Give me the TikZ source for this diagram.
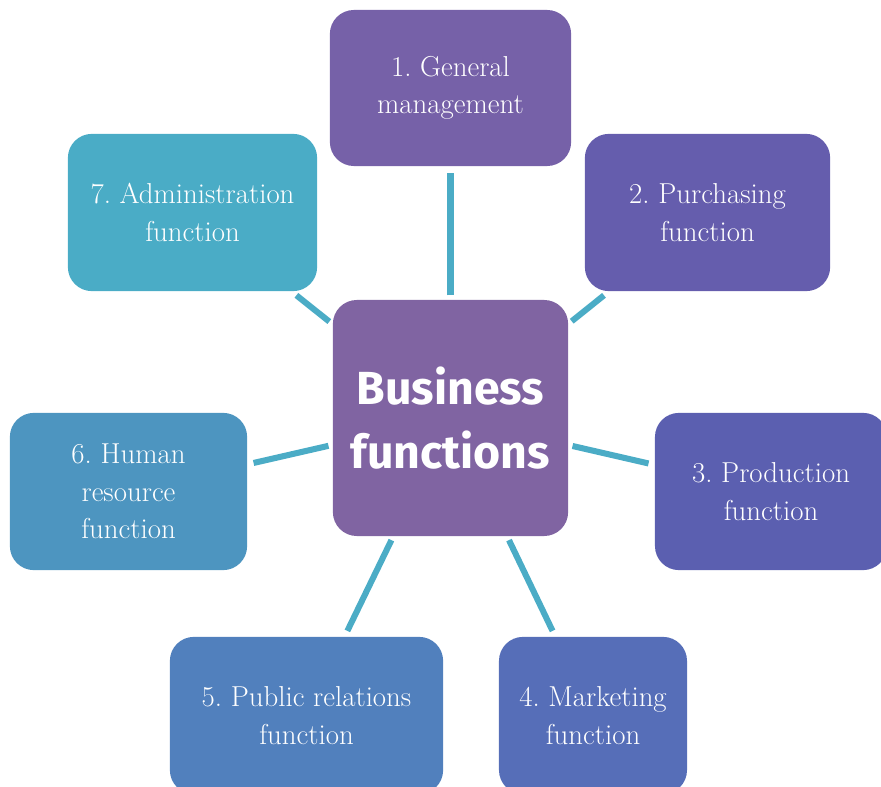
\documentclass[tikz,border=0pt]{standalone}
\usepackage{fontspec}
\newfontfamily\firasans{Fira Sans}
\definecolor{hubviolet}{HTML}{8064A2}
\definecolor{cgeneral}{HTML}{7661A8}
\definecolor{cpurchase}{HTML}{655DAD}
\definecolor{cproduction}{HTML}{5B5FB0}
\definecolor{cmarketing}{HTML}{566EB8}
\definecolor{cpublic}{HTML}{5180BD}
\definecolor{chuman}{HTML}{4D95C0}
\definecolor{cadmin}{HTML}{4AACC6}
\definecolor{aqua}{HTML}{4BACC6}
\frenchspacing

\begin{document}
\begin{tikzpicture}[x=0.025cm,y=-0.025cm]

  % Styles des boites et des liens
  \tikzstyle{boite} = [rounded corners=0.6cm, text=white, align=center, inner sep=0pt, minimum height=3.93cm, font=\fontsize{20.5}{26.5}\selectfont]
  \tikzstyle{lien} = [line width=4.3pt, aqua, shorten <=3pt, shorten >=4.5pt]

  \useasboundingbox (0,0) rectangle (881,787);
  \clip (0,0) rectangle (881,787);

  % Boite centrale
  \draw (450.5,418) node[boite, fill=hubviolet, minimum width=5.88cm, minimum height=5.9cm, font=\firasans\bfseries\fontsize{33}{45}\selectfont] (centre) {Business\\functions};

  % Liste des boites
  \draw (450.5,88) node[boite, fill=cgeneral, minimum width=6.03cm, minimum height=3.9cm] (general) {1. General\\management};
  \draw (707.5,212.5) node[boite, fill=cpurchase, minimum width=6.13cm] (purchasing) {2. Purchasing\\function};
  \draw (771,491.5) node[boite, fill=cproduction, minimum width=5.8cm] (production) {3. Production\\function};
  \draw (593,715.5) node[boite, fill=cmarketing, minimum width=4.7cm] (marketing) {4. Marketing\\function};
  \draw (306.5,715.5) node[boite, fill=cpublic, minimum width=6.83cm] (public) {5. Public relations\\function};
  \draw (128.5,491.5) node[boite, fill=chuman, minimum width=5.93cm] (human) {6. Human\\resource\\function};
  \draw (192.5,212.5) node[boite, fill=cadmin, minimum width=6.23cm] (admin) {7. Administration\\function};

  % Liens
  \draw[lien] (centre) -- (general);
  \draw[lien] (centre) -- (purchasing);
  \draw[lien] (centre) -- (production);
  \draw[lien] (centre) -- (marketing);
  \draw[lien] (centre) -- (public);
  \draw[lien] (centre) -- (human);
  \draw[lien] (centre) -- (admin);

\end{tikzpicture}
\end{document}
